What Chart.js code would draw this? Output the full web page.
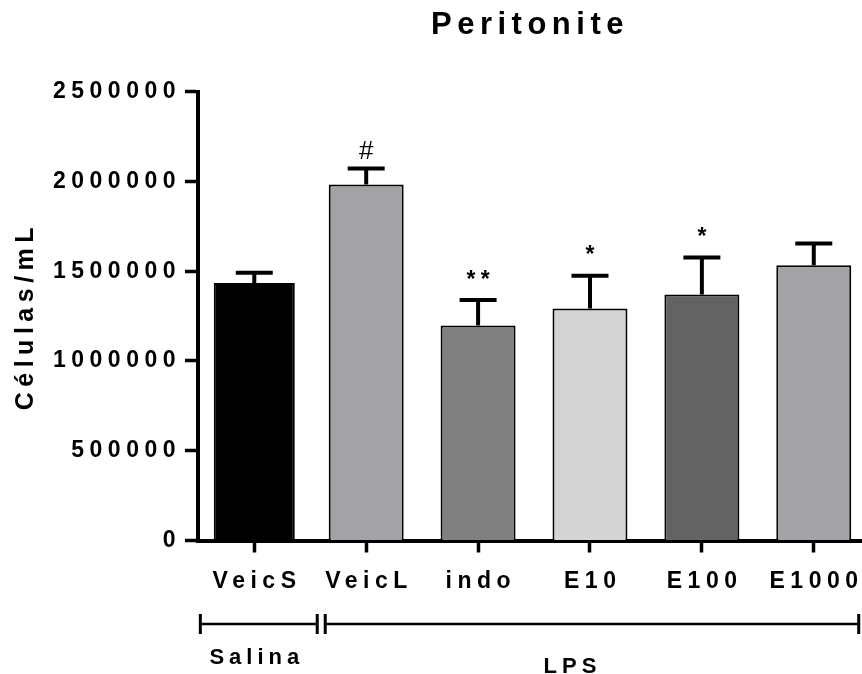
<!DOCTYPE html>
<html>
<head>
<meta charset="utf-8">
<script src="https://cdn.jsdelivr.net/npm/chart.js@4/dist/chart.umd.min.js"></script>
<style>
html,body{margin:0;padding:0;background:#fff;}
canvas{display:block;}
</style>
</head>
<body>
<canvas id="c" width="862" height="674"></canvas>
<script>
const categories = ['VeicS', 'VeicL', 'indo', 'E10', 'E100', 'E1000'];
const means = [1434000, 1983000, 1198000, 1292000, 1370000, 1533000];
const sems = [57000, 89000, 141000, 183000, 206000, 121000];
const marks = ['', '#', '**', '*', '*', ''];
const yTicks = [0, 500000, 1000000, 1500000, 2000000, 2500000];
const groupLabels = ['Salina', 'LPS'];
const groupFirst = [0, 1];
const groupLast = [0, 5];

const fills = ['#000000', '#a3a2a7', '#808080', '#d4d4d4', '#636363', '#a3a2a7'];
const FONT = "'Liberation Sans', Arial, sans-serif";
const SP = 5.5;

Chart.defaults.font.family = FONT;
Chart.defaults.color = '#000';

const spacingPlugin = {
  id: 'spacing',
  beforeUpdate(chart) { chart.ctx.letterSpacing = SP + 'px'; },
  beforeLayout(chart) { chart.ctx.letterSpacing = SP + 'px'; },
  beforeDraw(chart) { chart.ctx.letterSpacing = SP + 'px'; }
};

const errorPlugin = {
  id: 'errors',
  afterDatasetsDraw(chart) {
    const ctx = chart.ctx, x = chart.scales.x, y = chart.scales.y;
    ctx.save();
    ctx.strokeStyle = '#000';
    ctx.lineWidth = 4;
    ctx.lineCap = 'butt';
    means.forEach((m, i) => {
      const px = x.getPixelForValue(i);
      const top = y.getPixelForValue(m);
      const e = y.getPixelForValue(m + sems[i]);
      ctx.beginPath();
      ctx.moveTo(px, top);
      ctx.lineTo(px, e);
      ctx.stroke();
      ctx.beginPath();
      ctx.moveTo(px - 18.5, e);
      ctx.lineTo(px + 18.5, e);
      ctx.stroke();
    });
    ctx.restore();
  },
  afterDraw(chart) {
    const ctx = chart.ctx, x = chart.scales.x, y = chart.scales.y;
    ctx.save();
    ctx.fillStyle = '#000';
    ctx.textAlign = 'center';
    ctx.textBaseline = 'alphabetic';
    means.forEach((m, i) => {
      const s = marks[i];
      if (!s) return;
      const px = x.getPixelForValue(i);
      const capTop = y.getPixelForValue(m + sems[i]) - 2;
      if (s === '#') {
        ctx.letterSpacing = '0px';
        ctx.font = 'normal 26px ' + FONT;
        ctx.fillText(s, px, capTop - 7.5);
      } else {
        ctx.letterSpacing = SP + 'px';
        ctx.font = 'bold 23px ' + FONT;
        ctx.fillText(s, px + SP / 2, capTop - 11.5);
      }
    });
    const bracketY = 624;
    const insetStart = [2, 15];
    const insetEnd = [-7, 11];
    const labelShift = [0, -20];
    const labelBase = [664, 673];
    ctx.strokeStyle = '#000';
    groupLabels.forEach((g, k) => {
      const l = x.getPixelForValue(groupFirst[k] - 0.5) + insetStart[k];
      const r = x.getPixelForValue(groupLast[k] + 0.5) - insetEnd[k];
      ctx.lineWidth = 2.5;
      ctx.beginPath();
      ctx.moveTo(l, bracketY);
      ctx.lineTo(r, bracketY);
      ctx.stroke();
      ctx.lineWidth = 3;
      ctx.beginPath();
      ctx.moveTo(l, bracketY - 10);
      ctx.lineTo(l, bracketY + 10);
      ctx.moveTo(r, bracketY - 10);
      ctx.lineTo(r, bracketY + 10);
      ctx.stroke();
      ctx.letterSpacing = '5px';
      ctx.font = 'bold 22px ' + FONT;
      const cx = (x.getPixelForValue(groupFirst[k]) + x.getPixelForValue(groupLast[k])) / 2 + labelShift[k];
      ctx.fillText(g, cx + 2.5, labelBase[k]);
    });
    ctx.restore();
  }
};

const barCommon = {
  borderColor: '#000',
  borderWidth: 2,
  borderSkipped: 'start',
  categoryPercentage: 1,
  grouped: false
};

new Chart(document.getElementById('c'), {
  type: 'bar',
  data: {
    datasets: [
      Object.assign({
        data: [{x: 0, y: means[0]}],
        backgroundColor: [fills[0]],
        barPercentage: 0.724
      }, barCommon),
      Object.assign({
        data: means.slice(1).map((v, i) => ({x: i + 1, y: v})),
        backgroundColor: fills.slice(1),
        barPercentage: 0.670
      }, barCommon)
    ]
  },
  options: {
    responsive: false,
    animation: false,
    events: [],
    layout: {padding: 0},
    plugins: {
      legend: {display: false},
      tooltip: {enabled: false},
      title: {
        display: true,
        text: 'Peritonite',
        fullSize: false,
        color: '#000',
        font: {size: 31, weight: 'bold', family: FONT},
        padding: {top: 6.7, bottom: 47.8}
      }
    },
    scales: {
      x: {
        type: 'linear',
        offset: false,
        min: -0.503,
        max: 5.431,
        afterBuildTicks: s => { s.ticks = categories.map((c, i) => ({value: i})); },
        afterFit: s => { s.height = 133.5; s.paddingLeft = 0; s.paddingRight = 0; },
        ticks: {
          callback: v => categories[v],
          font: {size: 23, weight: 'bold'},
          color: '#000',
          padding: 15,
          labelOffset: SP / 2,
          maxRotation: 0,
          minRotation: 0,
          autoSkip: false
        },
        grid: {offset: false, drawOnChartArea: false, drawTicks: true, tickLength: 12, tickWidth: 3.5, tickColor: '#000'},
        border: {display: true, color: '#000', width: 4}
      },
      y: {
        min: 0,
        max: 2500000,
        afterBuildTicks: s => { s.ticks = yTicks.map(v => ({value: v})); },
        afterFit: s => { s.width = 198; s.paddingTop = 0; s.paddingBottom = 0; },
        ticks: {
          callback: v => String(v),
          font: {size: 23, weight: 'bold'},
          color: '#000',
          padding: 4
        },
        grid: {drawOnChartArea: false, drawTicks: true, tickLength: 13, tickWidth: 3.5, tickColor: '#000'},
        border: {display: true, color: '#000', width: 4},
        title: {
          display: true,
          text: 'Células/mL',
          color: '#000',
          font: {size: 25, weight: 'bold'},
          padding: {top: 11, bottom: 0}
        }
      }
    }
  },
  plugins: [spacingPlugin, errorPlugin]
});
</script>
</body>
</html>
